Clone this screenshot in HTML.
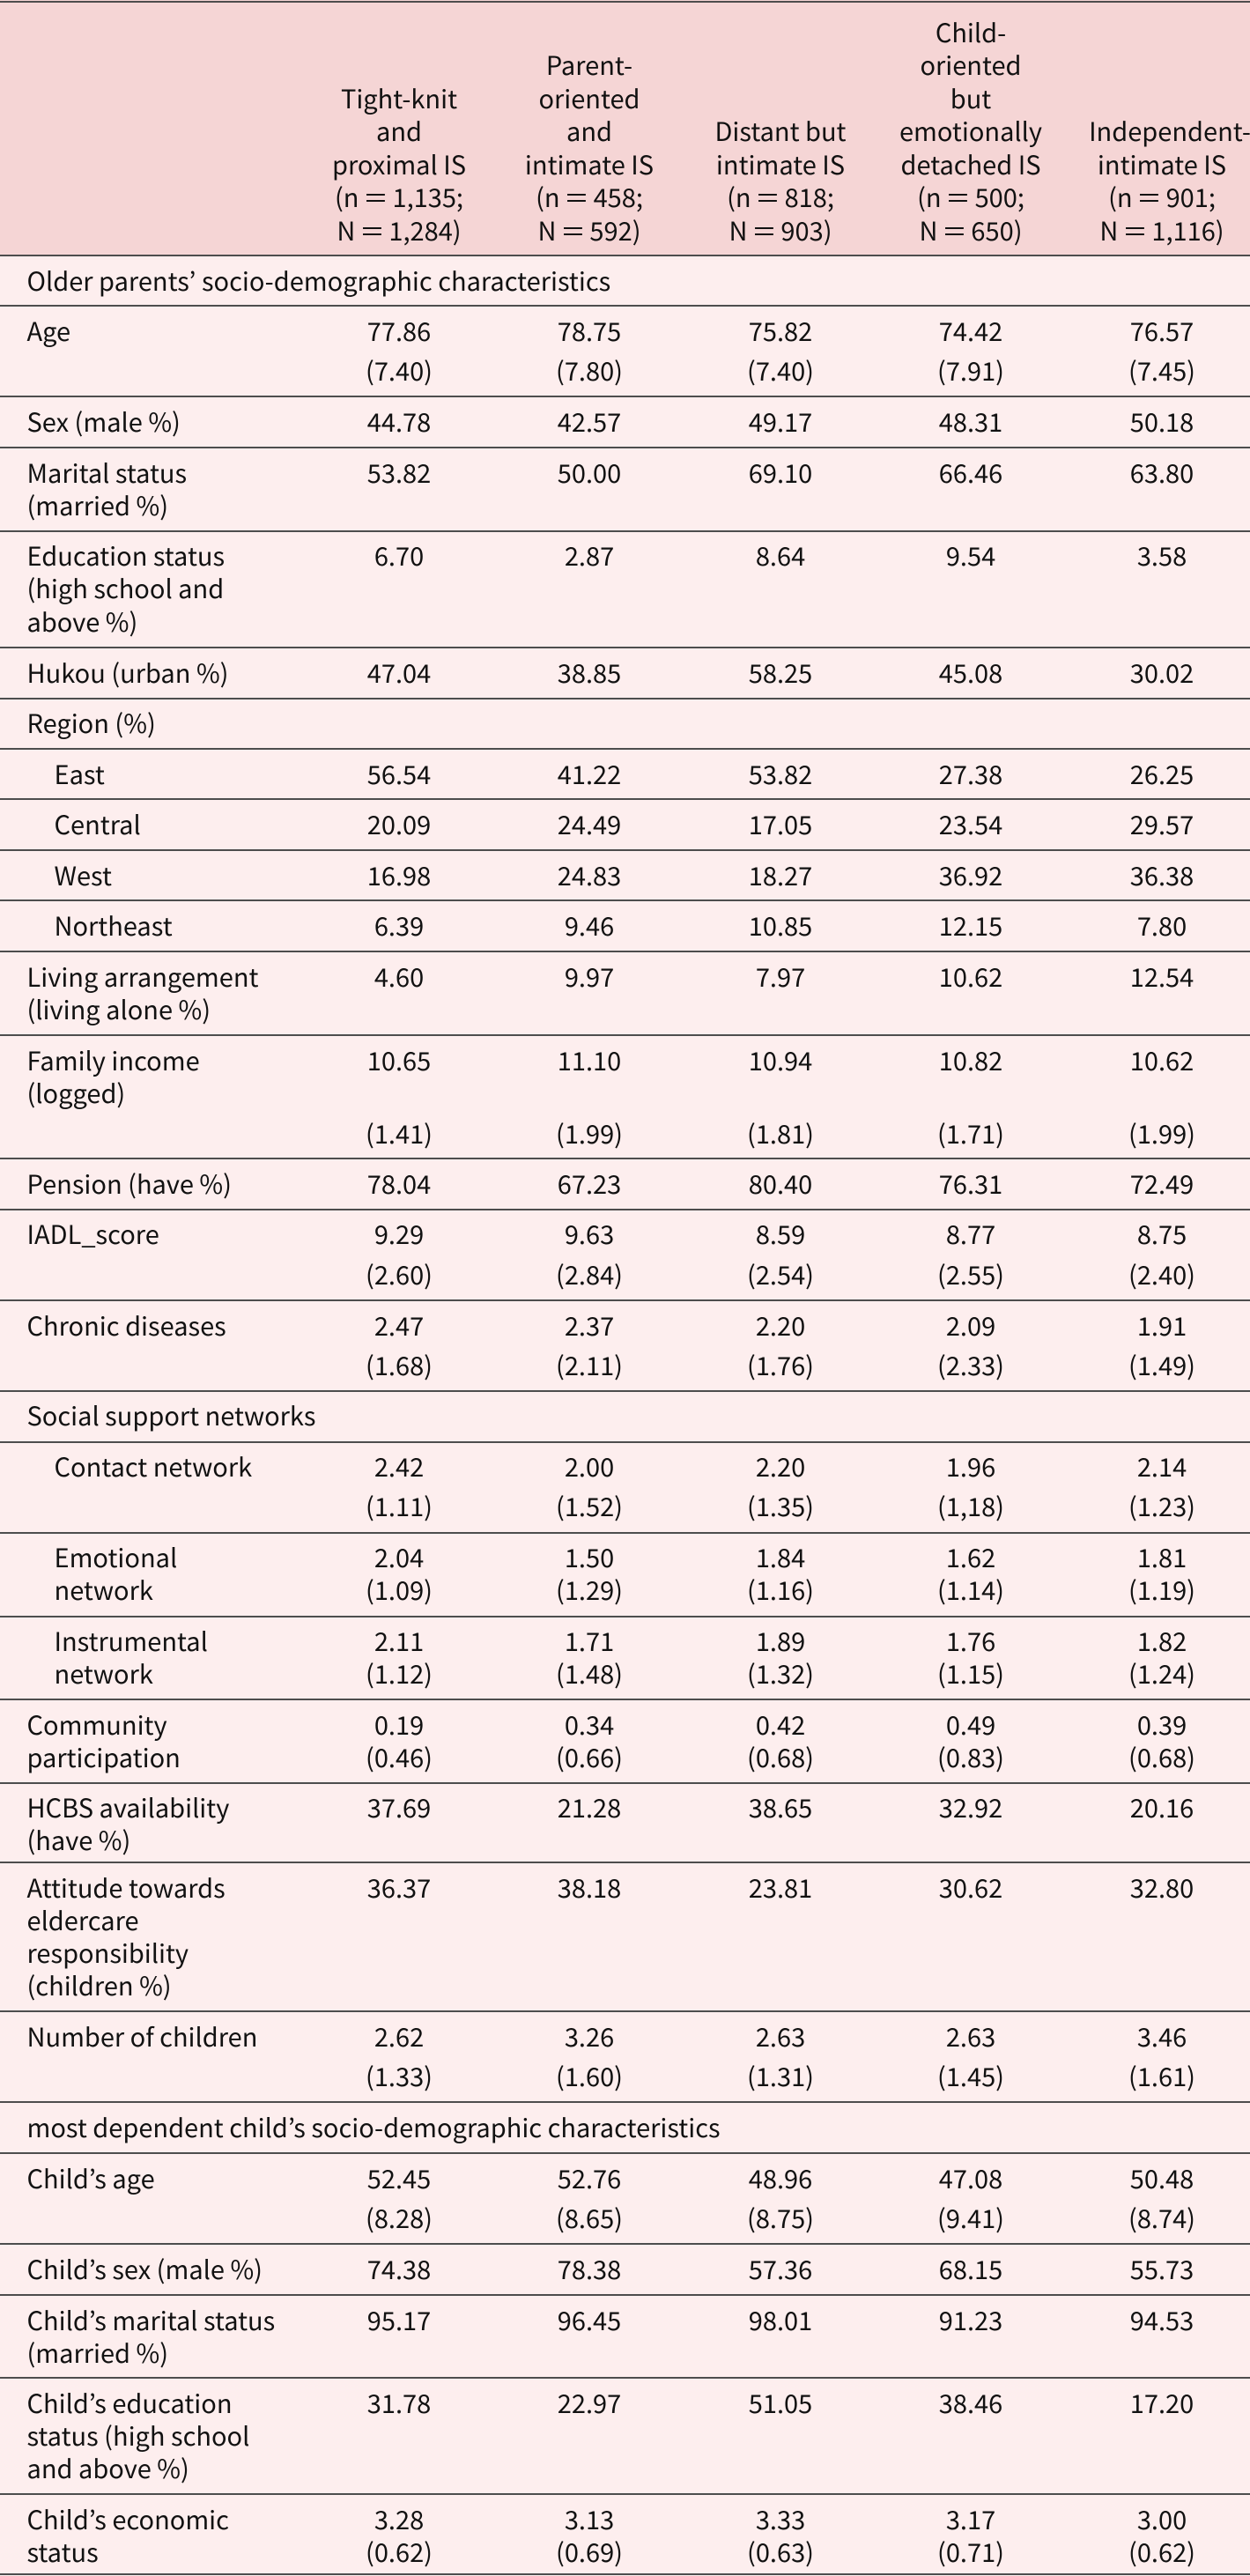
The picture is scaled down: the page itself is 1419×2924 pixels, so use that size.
<!DOCTYPE html>
<html lang="en"><head><meta charset="utf-8"><title>Table</title>
<style>
html,body{margin:0;padding:0;background:#fdeeee}
#t{position:relative;width:1419px;height:2924px;overflow:hidden;background:#fdeeee;color:#111;font-family:"Noto Sans CJK JP","Noto Sans CJK SC","Liberation Sans",sans-serif;font-size:29px;line-height:37.3px}
#h{position:absolute;left:0;top:0;width:1419px;height:290px;background:#f5d5d5}
.hc{position:absolute;bottom:10px;width:216px;text-align:center;white-space:nowrap;line-height:37.5px}
.e{display:inline-block;width:25px;text-align:center;transform:scaleX(1.5)}
.r{position:absolute;left:0;width:1419px}
.ln{position:absolute;left:0;width:1419px;height:2px;background:#4d4d4d}
.l,.v{position:absolute;top:9.6px;white-space:nowrap}
.l{left:30.5px}
.i{left:61.5px}
.v{width:216px;text-align:center}
p{margin:0}
.g{margin-top:8.4px}
.g2{margin-top:46px}
.c1{left:345px}.c2{left:561px}.c3{left:778px}.c4{left:994px}.c5{left:1211px}
</style></head><body>
<div id="t">
<div id="h">
<div class="hc c1">Tight-knit<br>and<br>proximal IS<br>(n <span class="e">=</span> 1,135;<br>N <span class="e">=</span> 1,284)</div>
<div class="hc c2">Parent-<br>oriented<br>and<br>intimate IS<br>(n <span class="e">=</span> 458;<br>N <span class="e">=</span> 592)</div>
<div class="hc c3">Distant but<br>intimate IS<br>(n <span class="e">=</span> 818;<br>N <span class="e">=</span> 903)</div>
<div class="hc c4">Child-<br>oriented<br>but<br>emotionally<br>detached IS<br>(n <span class="e">=</span> 500;<br>N <span class="e">=</span> 650)</div>
<div class="hc" style="left:1220px">Independent-<br><span style="position:relative;left:-9px">intimate IS</span><br><span style="position:relative;left:-9px">(n <span class="e">=</span> 901;</span><br><span style="position:relative;left:-9px">N <span class="e">=</span> 1,116)</span></div>
</div>

<div class="r" style="top:290px"><div class="l">Older parents’ socio-demographic characteristics</div></div>

<div class="r" style="top:347px"><div class="l">Age</div>
<div class="v c1"><p>77.86</p><p class="g">(7.40)</p></div><div class="v c2"><p>78.75</p><p class="g">(7.80)</p></div><div class="v c3"><p>75.82</p><p class="g">(7.40)</p></div><div class="v c4"><p>74.42</p><p class="g">(7.91)</p></div><div class="v c5"><p>76.57</p><p class="g">(7.45)</p></div></div>

<div class="r" style="top:450px"><div class="l">Sex (male %)</div>
<div class="v c1">44.78</div><div class="v c2">42.57</div><div class="v c3">49.17</div><div class="v c4">48.31</div><div class="v c5">50.18</div></div>

<div class="r" style="top:508px"><div class="l">Marital status<br>(married %)</div>
<div class="v c1">53.82</div><div class="v c2">50.00</div><div class="v c3">69.10</div><div class="v c4">66.46</div><div class="v c5">63.80</div></div>

<div class="r" style="top:602.5px"><div class="l">Education status<br>(high school and<br>above %)</div>
<div class="v c1">6.70</div><div class="v c2">2.87</div><div class="v c3">8.64</div><div class="v c4">9.54</div><div class="v c5">3.58</div></div>

<div class="r" style="top:735px"><div class="l">Hukou (urban %)</div>
<div class="v c1">47.04</div><div class="v c2">38.85</div><div class="v c3">58.25</div><div class="v c4">45.08</div><div class="v c5">30.02</div></div>

<div class="r" style="top:792.5px"><div class="l">Region (%)</div></div>

<div class="r" style="top:850px"><div class="l i">East</div>
<div class="v c1">56.54</div><div class="v c2">41.22</div><div class="v c3">53.82</div><div class="v c4">27.38</div><div class="v c5">26.25</div></div>

<div class="r" style="top:907px"><div class="l i">Central</div>
<div class="v c1">20.09</div><div class="v c2">24.49</div><div class="v c3">17.05</div><div class="v c4">23.54</div><div class="v c5">29.57</div></div>

<div class="r" style="top:965px"><div class="l i">West</div>
<div class="v c1">16.98</div><div class="v c2">24.83</div><div class="v c3">18.27</div><div class="v c4">36.92</div><div class="v c5">36.38</div></div>

<div class="r" style="top:1022px"><div class="l i">Northeast</div>
<div class="v c1">6.39</div><div class="v c2">9.46</div><div class="v c3">10.85</div><div class="v c4">12.15</div><div class="v c5">7.80</div></div>

<div class="r" style="top:1080px"><div class="l">Living arrangement<br>(living alone %)</div>
<div class="v c1">4.60</div><div class="v c2">9.97</div><div class="v c3">7.97</div><div class="v c4">10.62</div><div class="v c5">12.54</div></div>

<div class="r" style="top:1175px"><div class="l">Family income<br>(logged)</div>
<div class="v c1"><p>10.65</p><p class="g2">(1.41)</p></div><div class="v c2"><p>11.10</p><p class="g2">(1.99)</p></div><div class="v c3"><p>10.94</p><p class="g2">(1.81)</p></div><div class="v c4"><p>10.82</p><p class="g2">(1.71)</p></div><div class="v c5"><p>10.62</p><p class="g2">(1.99)</p></div></div>

<div class="r" style="top:1315px"><div class="l">Pension (have %)</div>
<div class="v c1">78.04</div><div class="v c2">67.23</div><div class="v c3">80.40</div><div class="v c4">76.31</div><div class="v c5">72.49</div></div>

<div class="r" style="top:1372.5px"><div class="l">IADL_score</div>
<div class="v c1"><p>9.29</p><p class="g">(2.60)</p></div><div class="v c2"><p>9.63</p><p class="g">(2.84)</p></div><div class="v c3"><p>8.59</p><p class="g">(2.54)</p></div><div class="v c4"><p>8.77</p><p class="g">(2.55)</p></div><div class="v c5"><p>8.75</p><p class="g">(2.40)</p></div></div>

<div class="r" style="top:1476px"><div class="l">Chronic diseases</div>
<div class="v c1"><p>2.47</p><p class="g">(1.68)</p></div><div class="v c2"><p>2.37</p><p class="g">(2.11)</p></div><div class="v c3"><p>2.20</p><p class="g">(1.76)</p></div><div class="v c4"><p>2.09</p><p class="g">(2.33)</p></div><div class="v c5"><p>1.91</p><p class="g">(1.49)</p></div></div>

<div class="r" style="top:1578px"><div class="l">Social support networks</div></div>

<div class="r" style="top:1636px"><div class="l i">Contact network</div>
<div class="v c1"><p>2.42</p><p class="g">(1.11)</p></div><div class="v c2"><p>2.00</p><p class="g">(1.52)</p></div><div class="v c3"><p>2.20</p><p class="g">(1.35)</p></div><div class="v c4"><p>1.96</p><p class="g">(1,18)</p></div><div class="v c5"><p>2.14</p><p class="g">(1.23)</p></div></div>

<div class="r" style="top:1739px"><div class="l i">Emotional<br>network</div>
<div class="v c1">2.04<br>(1.09)</div><div class="v c2">1.50<br>(1.29)</div><div class="v c3">1.84<br>(1.16)</div><div class="v c4">1.62<br>(1.14)</div><div class="v c5">1.81<br>(1.19)</div></div>

<div class="r" style="top:1834px"><div class="l i">Instrumental<br>network</div>
<div class="v c1">2.11<br>(1.12)</div><div class="v c2">1.71<br>(1.48)</div><div class="v c3">1.89<br>(1.32)</div><div class="v c4">1.76<br>(1.15)</div><div class="v c5">1.82<br>(1.24)</div></div>

<div class="r" style="top:1929px"><div class="l">Community<br>participation</div>
<div class="v c1">0.19<br>(0.46)</div><div class="v c2">0.34<br>(0.66)</div><div class="v c3">0.42<br>(0.68)</div><div class="v c4">0.49<br>(0.83)</div><div class="v c5">0.39<br>(0.68)</div></div>

<div class="r" style="top:2023.5px"><div class="l">HCBS availability<br>(have %)</div>
<div class="v c1">37.69</div><div class="v c2">21.28</div><div class="v c3">38.65</div><div class="v c4">32.92</div><div class="v c5">20.16</div></div>

<div class="r" style="top:2114px"><div class="l">Attitude towards<br>eldercare<br>responsibility<br>(children %)</div>
<div class="v c1">36.37</div><div class="v c2">38.18</div><div class="v c3">23.81</div><div class="v c4">30.62</div><div class="v c5">32.80</div></div>

<div class="r" style="top:2283px"><div class="l">Number of children</div>
<div class="v c1"><p>2.62</p><p class="g">(1.33)</p></div><div class="v c2"><p>3.26</p><p class="g">(1.60)</p></div><div class="v c3"><p>2.63</p><p class="g">(1.31)</p></div><div class="v c4"><p>2.63</p><p class="g">(1.45)</p></div><div class="v c5"><p>3.46</p><p class="g">(1.61)</p></div></div>

<div class="r" style="top:2386px"><div class="l">most dependent child’s socio-demographic characteristics</div></div>

<div class="r" style="top:2444px"><div class="l">Child’s age</div>
<div class="v c1"><p>52.45</p><p class="g">(8.28)</p></div><div class="v c2"><p>52.76</p><p class="g">(8.65)</p></div><div class="v c3"><p>48.96</p><p class="g">(8.75)</p></div><div class="v c4"><p>47.08</p><p class="g">(9.41)</p></div><div class="v c5"><p>50.48</p><p class="g">(8.74)</p></div></div>

<div class="r" style="top:2547px"><div class="l">Child’s sex (male %)</div>
<div class="v c1">74.38</div><div class="v c2">78.38</div><div class="v c3">57.36</div><div class="v c4">68.15</div><div class="v c5">55.73</div></div>

<div class="r" style="top:2605px"><div class="l">Child’s marital status<br>(married %)</div>
<div class="v c1">95.17</div><div class="v c2">96.45</div><div class="v c3">98.01</div><div class="v c4">91.23</div><div class="v c5">94.53</div></div>

<div class="r" style="top:2699px"><div class="l">Child’s education<br>status (high school<br>and above %)</div>
<div class="v c1">31.78</div><div class="v c2">22.97</div><div class="v c3">51.05</div><div class="v c4">38.46</div><div class="v c5">17.20</div></div>

<div class="r" style="top:2831px"><div class="l">Child’s economic<br>status</div>
<div class="v c1">3.28<br>(0.62)</div><div class="v c2">3.13<br>(0.69)</div><div class="v c3">3.33<br>(0.63)</div><div class="v c4">3.17<br>(0.71)</div><div class="v c5">3.00<br>(0.62)</div></div>

<div class="ln" style="top:1px"></div>
<div class="ln" style="top:289px"></div>
<div class="ln" style="top:346px"></div>
<div class="ln" style="top:449px"></div>
<div class="ln" style="top:507px"></div>
<div class="ln" style="top:602px"></div>
<div class="ln" style="top:734px"></div>
<div class="ln" style="top:792px"></div>
<div class="ln" style="top:849px"></div>
<div class="ln" style="top:906px"></div>
<div class="ln" style="top:964px"></div>
<div class="ln" style="top:1021px"></div>
<div class="ln" style="top:1079px"></div>
<div class="ln" style="top:1174px"></div>
<div class="ln" style="top:1314px"></div>
<div class="ln" style="top:1372px"></div>
<div class="ln" style="top:1475px"></div>
<div class="ln" style="top:1578px"></div>
<div class="ln" style="top:1636px"></div>
<div class="ln" style="top:1739px"></div>
<div class="ln" style="top:1834px"></div>
<div class="ln" style="top:1928px"></div>
<div class="ln" style="top:2023px"></div>
<div class="ln" style="top:2113px"></div>
<div class="ln" style="top:2282px"></div>
<div class="ln" style="top:2385px"></div>
<div class="ln" style="top:2443px"></div>
<div class="ln" style="top:2546px"></div>
<div class="ln" style="top:2604px"></div>
<div class="ln" style="top:2698px"></div>
<div class="ln" style="top:2830px"></div>
<div class="ln" style="top:2921px"></div>
</div>
</body></html>
